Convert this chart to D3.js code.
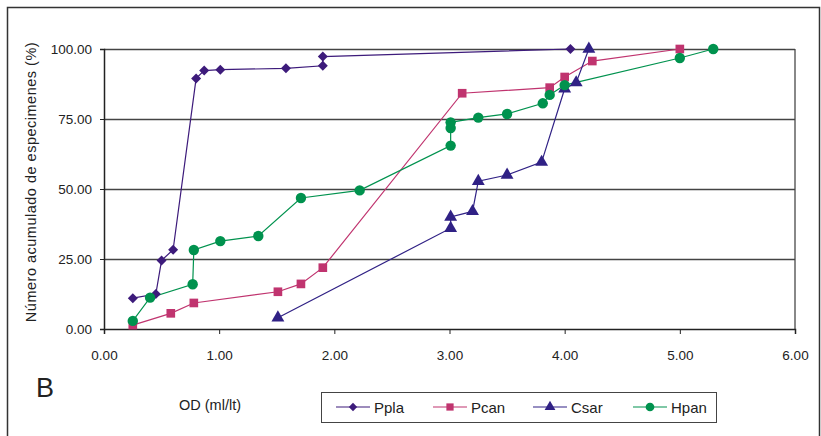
<!DOCTYPE html>
<html>
<head>
<meta charset="utf-8">
<script src="https://cdn.jsdelivr.net/npm/d3@7"></script>
<style>
  body { margin: 0; background: #fff; }
  svg { display: block; font-family: "Liberation Sans", Arial, sans-serif; }
</style>
</head>
<body>
<div id="chart"></div>
<script>
// data (x = OD ml/lt, y = cumulative %)
const pplaX = [0.25, 0.45, 0.50, 0.60, 0.80, 0.87, 1.01, 1.58, 1.90, 1.90, 4.05];
const pplaY = [11.0, 12.5, 24.5, 28.3, 89.5, 92.3, 92.6, 93.1, 94.0, 97.3, 100];

const pcanX = [0.25, 0.58, 0.78, 1.51, 1.71, 1.90, 3.11, 3.87, 4.00, 4.24, 5.00];
const pcanY = [1.4, 5.6, 9.3, 13.3, 16.1, 21.9, 84.2, 86.2, 90.0, 95.7, 100];

const csarX = [1.51, 3.01, 3.01, 3.20, 3.25, 3.50, 3.80, 4.00, 4.10, 4.21];
const csarY = [4.0, 36.0, 40.0, 42.0, 52.8, 55.0, 59.6, 85.8, 88.0, 100];

const hpanX = [0.25, 0.40, 0.77, 0.78, 1.01, 1.34, 1.71, 2.22, 3.01, 3.01, 3.01, 3.25, 3.50, 3.81, 3.87, 4.00, 5.00, 5.29];
const hpanY = [2.9, 11.2, 16.0, 28.2, 31.4, 33.2, 46.8, 49.5, 65.5, 71.8, 73.8, 75.5, 76.8, 80.6, 83.6, 87.1, 96.8, 100];

const xTicks = [0, 1, 2, 3, 4, 5, 6];
const yTicks = [0, 25, 50, 75, 100];

// diamond = square turned 45deg
const series = [
  { name: "Ppla", xs: pplaX, ys: pplaY, color: "#3d1b7b", symbol: d3.symbolSquare, size: 50, rot: 45 },
  { name: "Pcan", xs: pcanX, ys: pcanY, color: "#c0346f", symbol: d3.symbolSquare, size: 75, rot: 0 },
  { name: "Csar", xs: csarX, ys: csarY, color: "#302185", symbol: d3.symbolTriangle, size: 72, rot: 0 },
  { name: "Hpan", xs: hpanX, ys: hpanY, color: "#00924e", symbol: d3.symbolCircle, size: 85, rot: 0 },
];

const W = 821, H = 436;
const margin = { top: 49, right: 26, bottom: 107, left: 104 };
const width = W - margin.left - margin.right;
const height = H - margin.top - margin.bottom;

const svg = d3.select("#chart").append("svg")
  .attr("width", W)
  .attr("height", H);

// outer frame
svg.append("rect")
  .attr("x", 7.5).attr("y", 7.5)
  .attr("width", 812).attr("height", 450)
  .attr("fill", "none")
  .attr("stroke", "#333")
  .attr("stroke-width", 1.5);

const g = svg.append("g")
  .attr("transform", `translate(${margin.left},${margin.top})`);

const x = d3.scaleLinear().domain([0, 6]).range([0, width]);
const y = d3.scaleLinear().domain([0, 100]).range([height, 0]);

// plot area right border
g.append("line")
  .attr("x1", width).attr("x2", width)
  .attr("y1", 0).attr("y2", height)
  .attr("stroke", "#888").attr("stroke-width", 2);

// grid
g.append("g")
  .call(d3.axisLeft(y).tickValues(yTicks.slice(1)).tickSize(-width).tickFormat(""))
  .call(s => s.select(".domain").remove())
  .selectAll(".tick line")
  .attr("stroke", "#444")
  .attr("stroke-width", 1.5);

// axes
const xAxis = g.append("g")
  .attr("transform", `translate(0,${height})`)
  .call(d3.axisBottom(x).tickValues(xTicks).tickSize(5).tickFormat(d3.format(".2f")));
xAxis.select(".domain").attr("stroke", "#222").attr("stroke-width", 1.5);
xAxis.selectAll(".tick line").attr("stroke", "#222");
xAxis.selectAll("text")
  .attr("y", 21)
  .attr("fill", "#222")
  .style("font-size", "13.5px");

const yAxis = g.append("g")
  .call(d3.axisLeft(y).tickValues(yTicks).tickSize(4).tickFormat(d3.format(".2f")));
yAxis.select(".domain").attr("stroke", "#222").attr("stroke-width", 1.5);
yAxis.selectAll(".tick line").attr("stroke", "#222");
yAxis.selectAll("text")
  .attr("x", -12)
  .attr("fill", "#222")
  .style("font-size", "13.5px");

// lines and markers
const line = d3.line().x(d => x(d[0])).y(d => y(d[1]));

series.forEach(s => {
  const pts = s.xs.map((v, i) => [v, s.ys[i]]);
  g.append("path")
    .datum(pts)
    .attr("fill", "none")
    .attr("stroke", s.color)
    .attr("stroke-width", 1.2)
    .attr("d", line);
});

series.forEach(s => {
  const pts = s.xs.map((v, i) => [v, s.ys[i]]);
  g.selectAll(null)
    .data(pts)
    .join("path")
    .attr("transform", d => `translate(${x(d[0])},${y(d[1])}) rotate(${s.rot})`)
    .attr("d", d3.symbol().type(s.symbol).size(s.size))
    .attr("fill", s.color);
});

// axis titles
svg.append("text")
  .attr("transform", "translate(36,182) rotate(-90)")
  .attr("text-anchor", "middle")
  .attr("fill", "#222")
  .style("font-size", "14.5px")
  .style("letter-spacing", "0.5px")
  .text("Número acumulado de especimenes (%)");

svg.append("text")
  .attr("x", 210).attr("y", 410)
  .attr("text-anchor", "middle")
  .attr("fill", "#222")
  .style("font-size", "14.5px")
  .text("OD (ml/lt)");

svg.append("text")
  .attr("x", 36).attr("y", 397)
  .attr("fill", "#222")
  .style("font-size", "27px")
  .text("B");

// legend
const legend = svg.append("g");
legend.append("rect")
  .attr("x", 321.5).attr("y", 392.5)
  .attr("width", 395).attr("height", 30)
  .attr("fill", "#fff")
  .attr("stroke", "#444");

const legX = [336, 433, 533, 633];
series.forEach((s, i) => {
  const lg = legend.append("g").attr("transform", `translate(${legX[i]},407)`);
  lg.append("line")
    .attr("x1", 0).attr("x2", 34)
    .attr("stroke", s.color).attr("stroke-width", 1.2);
  lg.append("path")
    .attr("transform", `translate(17,0) rotate(${s.rot})`)
    .attr("d", d3.symbol().type(s.symbol).size(s.size * 0.7))
    .attr("fill", s.color);
  lg.append("text")
    .attr("x", 38).attr("y", 5.5)
    .attr("fill", "#222")
    .style("font-size", "15px")
    .text(s.name);
});
</script>
</body>
</html>
